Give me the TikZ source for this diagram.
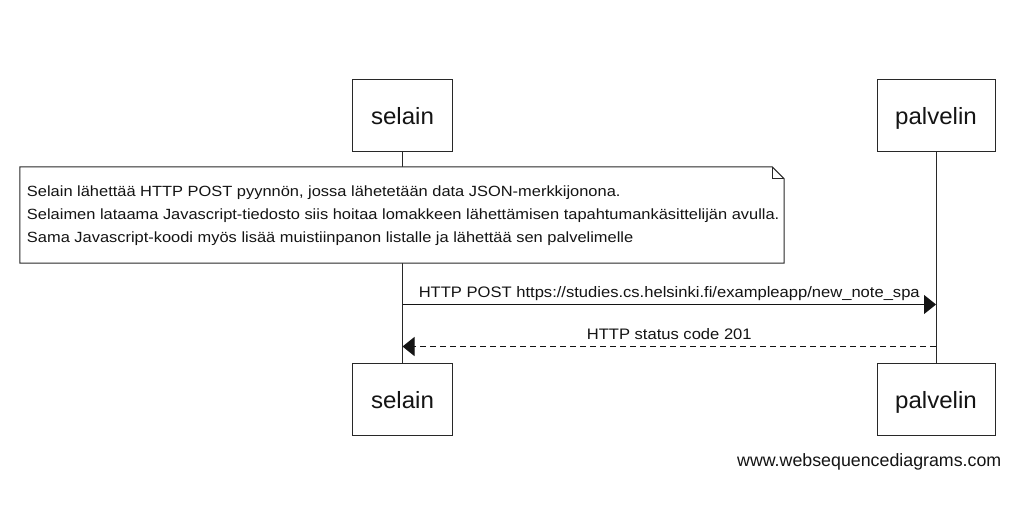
\documentclass[tikz,border=0pt]{standalone}
\usepackage{fontspec}
\setmainfont{Liberation Sans}
\newfontfamily\notefam[FakeStretch=1.11]{Liberation Sans}
\newfontfamily\labelfam[FakeStretch=1.09]{Liberation Sans}
\newfontfamily\titlefam[FakeStretch=1.025]{Liberation Sans}
\usetikzlibrary{arrows.meta}
\definecolor{ink}{RGB}{20,20,20}
\definecolor{edge}{RGB}{40,40,40}
\begin{document}
\begin{tikzpicture}[x=1pt,y=-1pt,
  actor/.style={draw=edge, line width=1pt, fill=white, inner sep=0pt, minimum height=72pt,
    text height=19pt, text depth=0pt,
    text=ink, font=\titlefam\fontsize{23.5}{28}\selectfont},
  lifeline/.style={draw=edge, line width=1pt},
  notebox/.style={draw=edge, line width=1pt, fill=white},
  notetext/.style={text=ink, font=\notefam\fontsize{14.8}{23}\selectfont, align=left, inner sep=0pt},
  msg/.style={draw=ink, line width=1pt, -{Triangle[length=12pt,width=19pt]}},
  reply/.style={msg, dash pattern=on 6pt off 4pt},
  msglabel/.style={text=ink, font=\labelfam\fontsize{15.2}{19}\selectfont, anchor=base, inner sep=0pt},
]
\useasboundingbox (0,0) rectangle (1016,522);
\fill[white] (0,0) rectangle (1016,522);

% participants
\node[actor, minimum width=100pt] (s1) at (402.5,115) {selain};
\node[actor, minimum width=118pt] (p1) at (936,115) {palvelin};
\node[actor, minimum width=100pt] (s2) at (402.5,399) {selain};
\node[actor, minimum width=118pt] (p2) at (936,399) {palvelin};

% lifelines
\draw[lifeline] (s1.south) -- (s2.north);
\draw[lifeline] (p1.south) -- (p2.north);

% note
\node[minimum width=764pt, minimum height=96pt, inner sep=0pt] (note) at (402,215) {};
\draw[notebox] (note.north west) -- ([xshift=-12pt]note.north east)
  -- ([yshift=-12pt]note.north east) -- (note.south east) -- (note.south west) -- cycle;
\draw[edge, line width=1pt] ([xshift=-12pt]note.north east) -- ([xshift=-12pt,yshift=-12pt]note.north east)
  -- ([yshift=-12pt]note.north east);
\node[notetext, anchor=west] (nt) at ([xshift=7pt,yshift=-1pt]note.west)
  {Selain lähettää HTTP POST pyynnön, jossa lähetetään data JSON-merkkijonona.\\
   Selaimen lataama Javascript-tiedosto siis hoitaa lomakkeen lähettämisen tapahtumankäsittelijän avulla.\\
   Sama Javascript-koodi myös lisää muistiinpanon listalle ja lähettää sen palvelimelle};

% message anchors on lifelines
\coordinate (m1s) at (s1.south |- 0,304.5);
\coordinate (m1p) at (p1.south |- 0,304.5);
\coordinate (m2s) at (s1.south |- 0,346.5);
\coordinate (m2p) at (p1.south |- 0,346.5);

\draw[msg] (m1s) -- (m1p)
  node[msglabel, midway, yshift=7pt] (l1) {HTTP POST https://studies.cs.helsinki.fi/exampleapp/new\_note\_spa};
\draw[reply] (m2p) -- (m2s)
  node[msglabel, midway, yshift=7pt] (l2) {HTTP status code 201};

\node[text=ink, font=\fontsize{17.8}{21}\selectfont, anchor=base east, inner sep=0pt] (web)
  at (1001.5,466.5) {www.websequencediagrams.com};
\end{tikzpicture}
\end{document}
